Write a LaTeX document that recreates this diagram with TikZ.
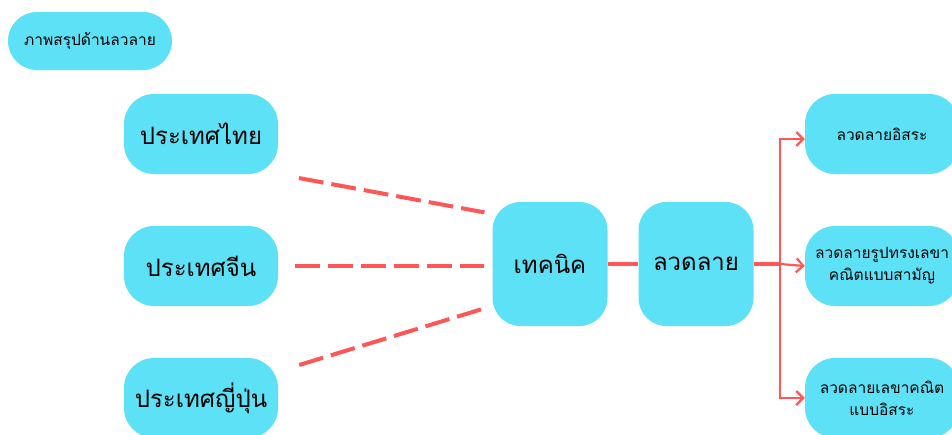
\documentclass[tikz,border=0pt]{standalone}
\usepackage{fontspec}
\newfontfamily\thaifont[Script=Thai]{Loma}
\usepackage{tikz}
\usetikzlibrary{shapes}
\usetikzlibrary{arrows,arrows.meta}
\usetikzlibrary{positioning}
\usetikzlibrary{calc}
\definecolor{bleuclair}{HTML}{5CE1F6}
\definecolor{rouge}{HTML}{FF5757}
\tikzstyle{titre}=[
        rectangle,
        rounded corners=29pt,
        fill=bleuclair,
        minimum width=164pt,
        minimum height=58pt,
        text=black,
        font=\thaifont\fontsize{15.5}{18}\selectfont
]
\tikzstyle{pays}=[
        rectangle,
        rounded corners=30pt,
        fill=bleuclair,
        minimum width=154pt,
        minimum height=80pt,
        text=black,
        font=\thaifont\fontsize{24}{28}\selectfont
]
\tikzstyle{centre}=[rectangle,rounded corners=28pt,fill=bleuclair,
minimum width=115pt,minimum height=124pt,text=black,
font=\thaifont\fontsize{24}{28}\selectfont]
\tikzstyle{sorte}=[rectangle,rounded corners=30pt,fill=bleuclair,
minimum width=154pt,minimum height=80pt,align=center,text=black,
font=\thaifont\fontsize{15.5}{22}\selectfont]
\tikzstyle{tiret}=[draw=rouge,line width=4pt,dash pattern=on 25pt off 8pt]
\tikzstyle{trait}=[draw=rouge,line width=4.5pt]
\tikzstyle{fleche}=[-{Straight Barb[length=7pt,width=14pt]},draw=rouge,line width=2.2pt]

\begin{document}
\begin{tikzpicture}[x=1pt,y=-1pt]
\useasboundingbox (0,0) rectangle (952,434);
\clip (0,0) rectangle (952,434);
\node[titre] (titre) at (90,41) {ภาพสรุปด้านลวลาย};
\node[pays] (thai) at (201,134) {ประเทศไทย};
\node[pays] (chine) at (201,266) {ประเทศจีน};
\node[pays] (japon) at (201,398) {ประเทศญี่ปุ่น};
\node[centre] (tech) at (550,264) {เทคนิค};
\node[centre] (lav) at (696,264) {ลวดลาย};
\node[sorte] (r1) at (882,134) {ลวดลายอิสระ};
\node[sorte] (r2) at (882,266) {ลวดลายรูปทรงเลขา\\คณิตแบบสามัญ};
\node[sorte] (r3) at (882,398) {ลวดลายเลขาคณิต\\แบบอิสระ};
\coordinate (tronc) at (780,264);
%Placementdesflèches
\draw[tiret,shorten <=21pt,shorten >=8pt] (thai.south east) -- (tech.139);
\draw[tiret,shorten <=17pt,shorten >=8pt] (chine.east) -- (chine.east -| tech.west);
\draw[tiret,shorten <=22pt,shorten >=11pt] (japon.19) -- (tech.216);

\draw[trait] (tech) -- (lav);
\draw[trait] (lav) -- (tronc);

\draw[fleche] (tronc) |- ([yshift=-5pt]r1.west);
\draw[fleche] (tronc) -- (r2.west);
\draw[fleche] (tronc) |- (r3.west);
\end{tikzpicture}
\end{document}
